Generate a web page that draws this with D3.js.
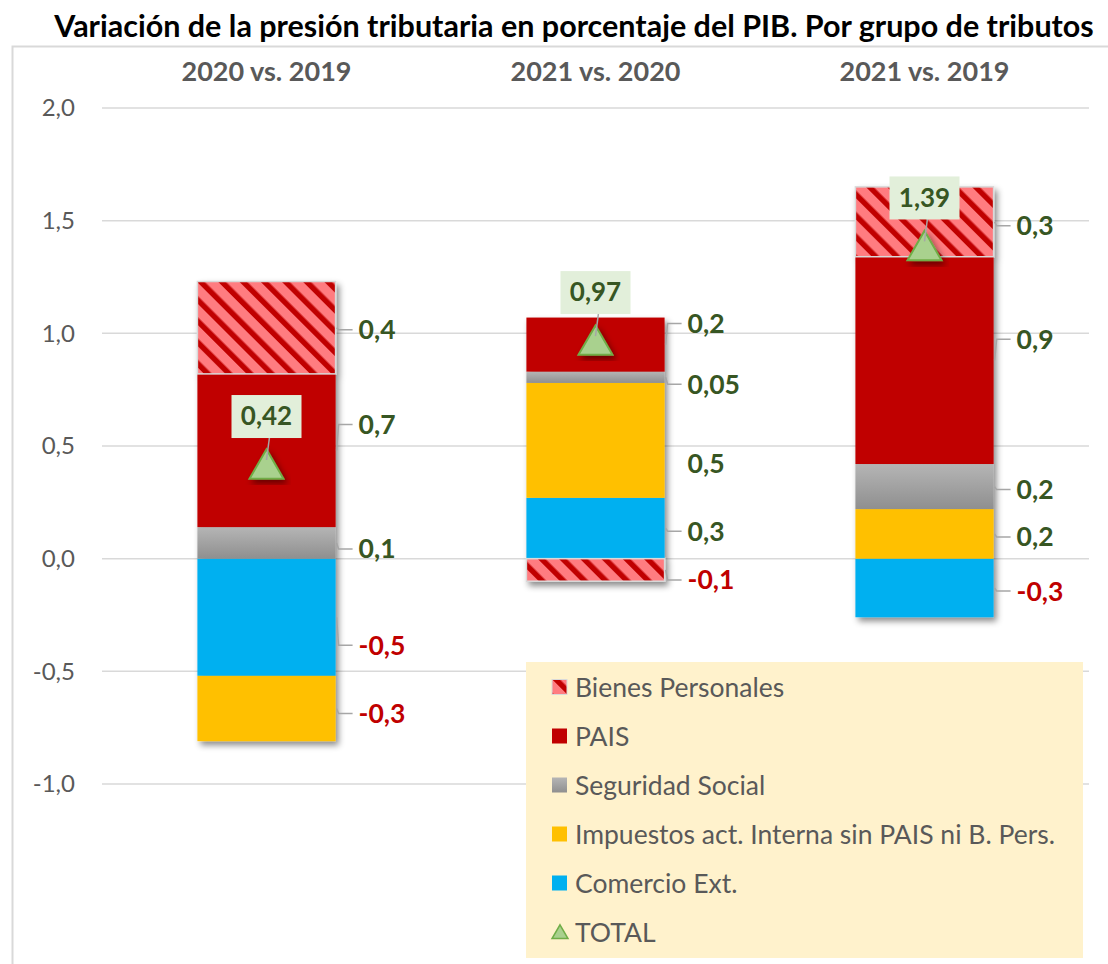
<!DOCTYPE html>
<html>
<head>
<meta charset="utf-8">
<script src="https://cdn.jsdelivr.net/npm/d3@7"></script>
<style>
  body { margin: 0; background: #fff; }
  svg text { font-family: Lato, "Open Sans", sans-serif; }
</style>
</head>
<body>
<svg id="chart" width="1108" height="964"></svg>
<script>
'use strict';

// ---- data ----
const categories = ["2020 vs. 2019", "2021 vs. 2020", "2021 vs. 2019"];
const comercioExt = [-0.52, 0.27, -0.26];
const impuestosInterna = [-0.29, 0.51, 0.22];
const seguridadSocial = [0.14, 0.05, 0.20];
const pais = [0.68, 0.24, 0.92];
const bienesPersonales = [0.41, -0.10, 0.31];
const total = [0.42, 0.97, 1.39];
const yTicks = [-1, -0.5, 0, 0.5, 1, 1.5, 2];

const seriesKeys = ["comercio", "impuestos", "seguridad", "pais", "bienes"];
const seriesNames = {
  bienes: "Bienes Personales",
  pais: "PAIS",
  seguridad: "Seguridad Social",
  impuestos: "Impuestos act. Interna sin PAIS ni B. Pers.",
  comercio: "Comercio Ext."
};
const legendOrder = ["bienes", "pais", "seguridad", "impuestos", "comercio", "total"];

// ---- layout / style ----
const colors = {comercio: "#00B0F0", impuestos: "#FFC000", seguridad: "url(#grayGrad)", pais: "#C00000", bienes: "url(#hatch)"};
// vertical nudges of the data labels (px), as Excel placed them
const labelNudge = {
  comercio: [28, 3, 3],
  impuestos: [5, 23, 3],
  seguridad: [6, 7, 3],
  pais: [-26, -21, -21],
  bienes: [2, 10, 4]
};

const svg = d3.select("#chart");
const locale = d3.formatLocale({decimal: ",", thousands: ".", grouping: [3], currency: ["", ""], minus: "-"});
const fmt1 = locale.format(".1f");
const fmt2 = locale.format(".2f");
const labelFmt = v => Math.abs(v) < 0.095 ? fmt2(v) : fmt1(v);

const rows = categories.map((c, i) => ({
  cat: c,
  comercio: comercioExt[i],
  impuestos: impuestosInterna[i],
  seguridad: seguridadSocial[i],
  pais: pais[i],
  bienes: bienesPersonales[i],
  total: total[i]
}));

const x = d3.scaleBand().domain(categories).range([102, 1089]).padding(0);
const y = d3.scaleLinear().domain([-1, 2]).range([784, 108]);
const barW = x.bandwidth() * 0.42;

// defs: hatch pattern, gradient, shadow
const defs = svg.append("defs");
const hatch = defs.append("pattern")
  .attr("id", "hatch")
  .attr("patternUnits", "userSpaceOnUse")
  .attr("width", 15).attr("height", 15)
  .attr("patternTransform", "rotate(-45)");
hatch.append("rect").attr("width", 15).attr("height", 15).attr("fill", "#FF7C80");
hatch.append("rect").attr("width", 5.5).attr("height", 15).attr("fill", "#C00000");

const grad = defs.append("linearGradient")
  .attr("id", "grayGrad").attr("x1", 0).attr("y1", 0).attr("x2", 0).attr("y2", 1);
grad.append("stop").attr("offset", "0%").attr("stop-color", "#B5B5B5");
grad.append("stop").attr("offset", "100%").attr("stop-color", "#8F8F8F");

const shadow = defs.append("filter").attr("id", "shadow")
  .attr("x", "-20%").attr("y", "-20%").attr("width", "140%").attr("height", "140%");
shadow.append("feDropShadow")
  .attr("dx", 3).attr("dy", 4).attr("stdDeviation", 3)
  .attr("flood-color", "#000").attr("flood-opacity", 0.45);

// chart border
svg.append("rect")
  .attr("x", 12.5).attr("y", 46.5).attr("width", 1200).attr("height", 1000)
  .attr("fill", "none").attr("stroke", "#D9D9D9").attr("stroke-width", 2);

// title
svg.append("text")
  .attr("x", 574).attr("y", 37)
  .attr("text-anchor", "middle")
  .style("font-size", "30.5px").style("font-weight", "bold").style("fill", "#000")
  .text("Variación de la presión tributaria en porcentaje del PIB. Por grupo de tributos");

// gridlines
svg.append("g").selectAll("line")
  .data(yTicks).join("line")
  .attr("x1", 102).attr("x2", 1089)
  .attr("y1", d => y(d)).attr("y2", d => y(d))
  .attr("stroke", "#D9D9D9").attr("stroke-width", 1.5);

// y axis
const yAxis = svg.append("g")
  .attr("transform", "translate(102,0)")
  .call(d3.axisLeft(y).tickValues(yTicks).tickSize(0).tickPadding(27).tickFormat(fmt1));
yAxis.select(".domain").remove();
yAxis.selectAll("text")
  .style("font-family", "Lato, sans-serif").style("font-size", "24px").style("fill", "#595959");

// category axis at top
const xAxis = svg.append("g")
  .attr("transform", "translate(0,81)")
  .call(d3.axisTop(x).tickSize(0).tickPadding(0));
xAxis.select(".domain").remove();
xAxis.selectAll("text")
  .style("font-family", "Lato, sans-serif").style("font-size", "27px")
  .style("font-weight", "bold").style("fill", "#595959");

// stacked bars
const stacked = d3.stack().keys(seriesKeys).offset(d3.stackOffsetDiverging)(rows);

const barGroups = svg.append("g").selectAll("g")
  .data(categories).join("g")
  .attr("filter", "url(#shadow)");

barGroups.each(function(cat, i) {
  const g = d3.select(this);
  stacked.forEach(s => {
    const seg = s[i];
    g.append("rect")
      .attr("x", x(cat) + x.bandwidth() / 2 - barW / 2)
      .attr("width", barW)
      .attr("y", y(Math.max(seg[0], seg[1])))
      .attr("height", Math.abs(y(seg[0]) - y(seg[1])))
      .attr("fill", colors[s.key])
      .attr("stroke", s.key === "bienes" ? "#D9D9D9" : "none")
      .attr("stroke-width", 1.5);
  });
});

// data labels with leader lines
const labelLayer = svg.append("g");
stacked.forEach(s => {
  s.forEach((seg, i) => {
    const v = rows[i][s.key];
    const right = x(categories[i]) + x.bandwidth() / 2 + barW / 2;
    const cy = y((seg[0] + seg[1]) / 2);
    const ly = cy + labelNudge[s.key][i];
    if (!(s.key === "impuestos" && i === 1)) {
      labelLayer.append("path")
        .attr("d", `M${right + 1},${cy}L${right + 3},${ly}L${right + 17},${ly}`)
        .attr("fill", "none").attr("stroke", "#A6A6A6").attr("stroke-width", 1.5);
    }
    labelLayer.append("text")
      .attr("x", right + 23).attr("y", ly)
      .attr("dy", "0.36em")
      .style("font-size", "26.5px").style("font-weight", "bold")
      .style("fill", v < 0 ? "#C00000" : "#375623")
      .text(labelFmt(v));
  });
});

// total markers
const tri = d3.symbol(d3.symbolTriangle, 500);
const triOffset = Math.sqrt(500 / (Math.sqrt(3) * 3)) / 2;
const totals = svg.append("g");
rows.forEach(r => {
  const cx = x(r.cat) + x.bandwidth() / 2;
  const cy = y(r.total);
  totals.append("path")
    .attr("d", tri())
    .attr("transform", `translate(${cx},${cy + triOffset})`)
    .attr("fill", "#A9D18E").attr("stroke", "#70AD47").attr("stroke-width", 2)
    .attr("filter", "url(#shadow)");
  const by = cy - 48;
  totals.append("line")
    .attr("x1", cx + 3).attr("y1", by + 21).attr("x2", cx).attr("y2", cy - 4)
    .attr("stroke", "#A6A6A6").attr("stroke-width", 1.5);
  totals.append("rect")
    .attr("x", cx - 35).attr("y", by - 21).attr("width", 70).attr("height", 43)
    .attr("fill", "#E2EFDA");
  totals.append("text")
    .attr("x", cx).attr("y", by).attr("dy", "0.36em")
    .attr("text-anchor", "middle")
    .style("font-size", "26px").style("font-weight", "bold").style("fill", "#375623")
    .text(fmt2(r.total));
});

// legend
const legend = svg.append("g");
legend.append("rect")
  .attr("x", 526).attr("y", 662).attr("width", 557).attr("height", 296)
  .attr("fill", "#FFF2CC");
const smallTri = d3.symbol(d3.symbolTriangle, 110);
legendOrder.forEach((k, i) => {
  const ly = 687 + i * 49;
  if (k === "total") {
    legend.append("path")
      .attr("d", smallTri())
      .attr("transform", `translate(560,${ly + 2})`)
      .attr("fill", "#A9D18E").attr("stroke", "#70AD47").attr("stroke-width", 1.5);
  } else {
    legend.append("rect")
      .attr("x", 552).attr("y", ly - 7.5).attr("width", 15).attr("height", 15)
      .attr("fill", colors[k])
      .attr("stroke", k === "bienes" ? "#D9D9D9" : "none");
  }
  legend.append("text")
    .attr("x", 575).attr("y", ly).attr("dy", "0.36em")
    .style("font-size", "26.5px").style("fill", "#595959")
    .text(k === "total" ? "TOTAL" : seriesNames[k]);
});
</script>
</body>
</html>
